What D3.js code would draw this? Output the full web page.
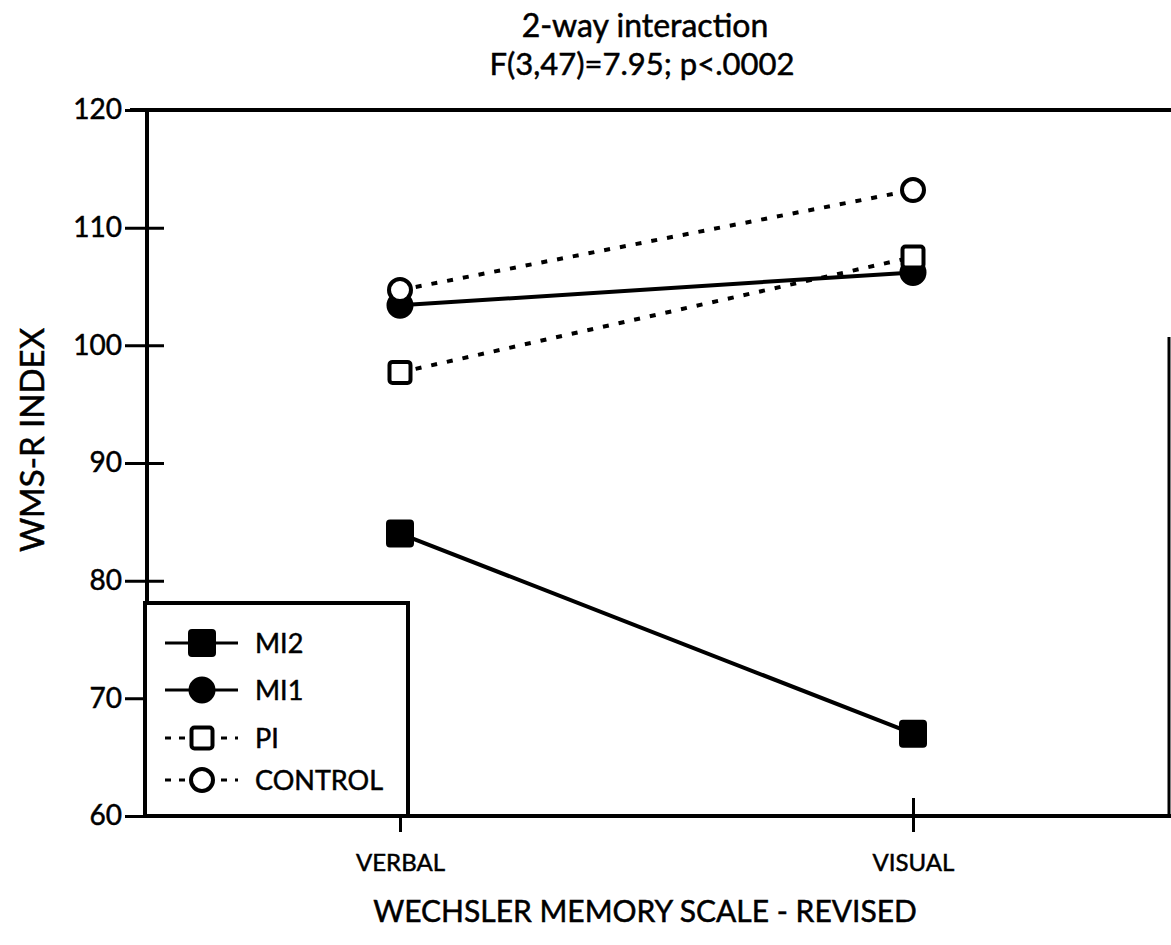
<!DOCTYPE html>
<html>
<head>
<meta charset="utf-8">
<script src="https://cdn.jsdelivr.net/npm/d3@7"></script>
<style>
  html, body { margin: 0; padding: 0; background: #fff; }
  svg { display: block; }
  text { font-family: Lato, "DejaVu Sans", sans-serif; fill: #000; stroke: #000; stroke-width: 0.5px; }
</style>
</head>
<body>
<svg id="chart" width="1171" height="945"></svg>
<script>
// WMS-R index means by memory domain and group
const categories = ["VERBAL", "VISUAL"];
const groups = ["MI2", "MI1", "PI", "CONTROL"];
const mi2Values = [84, 67];
const mi1Values = [103.4, 106.2];
const piValues = [97.7, 107.5];
const controlValues = [104.7, 113.2];
const yTicks = [60, 70, 80, 90, 100, 110, 120];

const series = [
  { name: groups[0], values: mi2Values, dashed: false, marker: "square", filled: true },
  { name: groups[1], values: mi1Values, dashed: false, marker: "circle", filled: true },
  { name: groups[2], values: piValues, dashed: true, marker: "square", filled: false },
  { name: groups[3], values: controlValues, dashed: true, marker: "circle", filled: false }
];

const svg = d3.select("#chart");
const plotLeft = 147, plotRight = 1169, plotTop = 110, plotBottom = 816;

const y = d3.scaleLinear().domain([60, 120]).range([plotBottom, plotTop]);
const x = d3.scalePoint().domain(categories).range([400, 913]);

// frame: top and right edges
svg.append("line").attr("x1", plotLeft - 17).attr("x2", 1171).attr("y1", plotTop).attr("y2", plotTop)
  .attr("stroke", "#000").attr("stroke-width", 4);
svg.append("line").attr("x1", plotRight).attr("x2", plotRight).attr("y1", 337).attr("y2", plotBottom)
  .attr("stroke", "#000").attr("stroke-width", 3);

// y axis
const yAxis = svg.append("g").attr("transform", `translate(${plotLeft},0)`)
  .call(d3.axisLeft(y).tickValues(yTicks).tickSize(22).tickPadding(3));
yAxis.select(".domain").attr("stroke-width", 4).attr("d", `M0,${plotTop}V${plotBottom}`);
yAxis.selectAll(".tick line").attr("stroke-width", 3)
  .attr("x1", d => (d === 60 || d === 120) ? 0 : 17);
yAxis.selectAll(".tick text").attr("font-size", 28);

// x axis
const xAxis = svg.append("g").attr("transform", `translate(0,${plotBottom})`)
  .call(d3.axisBottom(x).tickSize(16).tickPadding(22));
xAxis.select(".domain").attr("stroke-width", 4).attr("d", `M${plotLeft},0H1171`);
xAxis.selectAll(".tick line").attr("stroke-width", 3).attr("y1", -18);
xAxis.selectAll(".tick text").attr("font-size", 24);

// titles
svg.append("text").attr("x", 645).attr("y", 37).attr("text-anchor", "middle")
  .attr("font-size", 32).text("2-way interaction");
svg.append("text").attr("x", 642).attr("y", 75).attr("text-anchor", "middle")
  .attr("font-size", 31).text("F(3,47)=7.95; p<.0002");
svg.append("text").attr("transform", "translate(44,440) rotate(-90)").attr("text-anchor", "middle")
  .attr("font-size", 33).text("WMS-R INDEX");
svg.append("text").attr("x", 645).attr("y", 922).attr("text-anchor", "middle")
  .attr("font-size", 30).text("WECHSLER MEMORY SCALE - REVISED");

function drawMarker(g, s, cx, cy) {
  if (s.marker === "square") {
    const size = s.filled ? 26 : 21;
    g.append("rect").attr("x", cx - size / 2).attr("y", cy - size / 2)
      .attr("width", size).attr("height", size).attr("rx", 3)
      .attr("fill", s.filled ? "#000" : "#fff").attr("stroke", "#000")
      .attr("stroke-width", s.filled ? 2 : 4);
  } else {
    const r = s.filled ? 12.5 : 11;
    g.append("circle").attr("cx", cx).attr("cy", cy).attr("r", r)
      .attr("fill", s.filled ? "#000" : "#fff").attr("stroke", "#000")
      .attr("stroke-width", s.filled ? 2 : 4);
  }
}

// series lines then markers
const line = d3.line().x((d, i) => x(categories[i])).y(d => y(d));
const plot = svg.append("g");
series.forEach(s => {
  plot.append("path").attr("d", line(s.values)).attr("fill", "none")
    .attr("stroke", "#000").attr("stroke-width", 4)
    .attr("stroke-dasharray", s.dashed ? "6,10" : null);
});
series.forEach(s => {
  s.values.forEach((v, i) => drawMarker(plot, s, x(categories[i]), y(v)));
});

// legend
const legend = svg.append("g");
legend.append("rect").attr("x", 145).attr("y", 603).attr("width", 263).attr("height", 213)
  .attr("fill", "#fff").attr("stroke", "#000").attr("stroke-width", 4);
const legendY = [643, 690, 738, 780];
series.forEach((s, i) => {
  const ly = legendY[i];
  legend.append("line").attr("x1", 165).attr("x2", 238).attr("y1", ly).attr("y2", ly)
    .attr("stroke", "#000").attr("stroke-width", 3)
    .attr("stroke-dasharray", s.dashed ? "6,8" : null);
  drawMarker(legend, s, 202, ly);
  legend.append("text").attr("x", 255).attr("y", ly).attr("dy", "0.36em")
    .attr("font-size", 27).text(s.name);
});
</script>
</body>
</html>
